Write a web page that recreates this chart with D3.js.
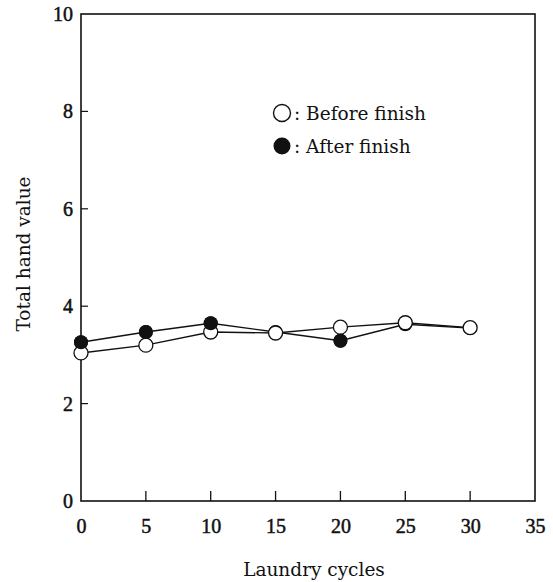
<!DOCTYPE html>
<html><head><meta charset="utf-8">
<script src="https://cdn.jsdelivr.net/npm/d3@7"></script>
<style>body{margin:0;background:#fff}svg{display:block}text{font-family:"DejaVu Serif",serif;fill:#111}</style>
</head><body>
<script>
const cycles = [0, 5, 10, 15, 20, 25, 30];
const beforeFinish = [3.04, 3.20, 3.47, 3.45, 3.57, 3.66, 3.56];
const afterFinish = [3.26, 3.47, 3.65, 3.47, 3.29, 3.63, 3.55];
const xTicks = [0, 5, 10, 15, 20, 25, 30, 35];
const yTicks = [0, 2, 4, 6, 8, 10];

const W = 553, H = 582;
const svg = d3.select("body").append("svg").attr("width", W).attr("height", H);
const x = d3.scaleLinear().domain([0, 35]).range([81, 535]);
const y = d3.scaleLinear().domain([0, 10]).range([501, 14]);

svg.append("rect").attr("x", x(0)).attr("y", y(10)).attr("width", x(35) - x(0)).attr("height", y(0) - y(10))
  .attr("fill", "none").attr("stroke", "#111").attr("stroke-width", 1.6);

const xAxis = d3.axisBottom(x).tickValues(xTicks).tickSize(0).tickPadding(18).tickFormat(d3.format("d"));
const gx = svg.append("g").attr("transform", `translate(0,${y(0)})`).call(xAxis);
gx.select(".domain").remove();
gx.selectAll("text").style("font-size", "20px").style("font-family", "'Liberation Serif'").style("fill", "#111")
  .style("stroke", "#111").style("stroke-width", "0.5px");
svg.selectAll(".xt").data(xTicks.filter(d => d > 0 && d < 35)).enter().append("line")
  .attr("x1", d => x(d)).attr("x2", d => x(d)).attr("y1", y(0)).attr("y2", y(0) - 10)
  .attr("stroke", "#111").attr("stroke-width", 1.3);

const yAxis = d3.axisLeft(y).tickValues(yTicks).tickSize(0).tickPadding(8).tickFormat(d3.format("d"));
const gy = svg.append("g").attr("transform", `translate(${x(0)},0)`).call(yAxis);
gy.select(".domain").remove();
gy.selectAll("text").style("font-size", "20px").style("font-family", "'Liberation Serif'").style("fill", "#111")
  .style("stroke", "#111").style("stroke-width", "0.5px");
svg.selectAll(".yt").data(yTicks.filter(d => d > 0 && d < 10)).enter().append("line")
  .attr("x1", x(0)).attr("x2", x(0) + 7).attr("y1", d => y(d)).attr("y2", d => y(d))
  .attr("stroke", "#111").attr("stroke-width", 1.2);

svg.append("text").attr("x", 314).attr("y", 576).attr("text-anchor", "middle").style("font-size", "18.5px").text("Laundry cycles");
svg.append("text").attr("transform", "translate(30,254) rotate(-90)").attr("text-anchor", "middle").style("font-size", "18.5px").text("Total hand value");

const line = d3.line().x((d, i) => x(cycles[i])).y(d => y(d));
svg.append("path").datum(afterFinish).attr("d", line).attr("fill", "none").attr("stroke", "#111").attr("stroke-width", 1.4);
svg.append("path").datum(beforeFinish).attr("d", line).attr("fill", "none").attr("stroke", "#111").attr("stroke-width", 1.4);

svg.selectAll(".af").data(afterFinish).enter().append("circle")
  .attr("cx", (d, i) => x(cycles[i])).attr("cy", d => y(d)).attr("r", 7).attr("fill", "#111");
svg.selectAll(".bf").data(beforeFinish).enter().append("circle")
  .attr("cx", (d, i) => x(cycles[i])).attr("cy", d => y(d)).attr("r", 7)
  .attr("fill", "#fff").attr("stroke", "#111").attr("stroke-width", 1.3);
svg.selectAll(".af2").data(afterFinish.map((v, i) => [cycles[i], v]).filter(d => [0, 5, 10, 20].includes(d[0]))).enter().append("circle")
  .attr("cx", d => x(d[0])).attr("cy", d => y(d[1])).attr("r", 7).attr("fill", "#111");

svg.append("circle").attr("cx", 282).attr("cy", 113).attr("r", 8.5).attr("fill", "#fff").attr("stroke", "#111").attr("stroke-width", 1.4);
svg.append("text").attr("x", 294).attr("y", 120).style("font-size", "18.5px").text(": Before finish");
svg.append("circle").attr("cx", 282).attr("cy", 146).attr("r", 8.5).attr("fill", "#111");
svg.append("text").attr("x", 294).attr("y", 153).style("font-size", "18.5px").text(": After finish");
</script>
</body></html>
